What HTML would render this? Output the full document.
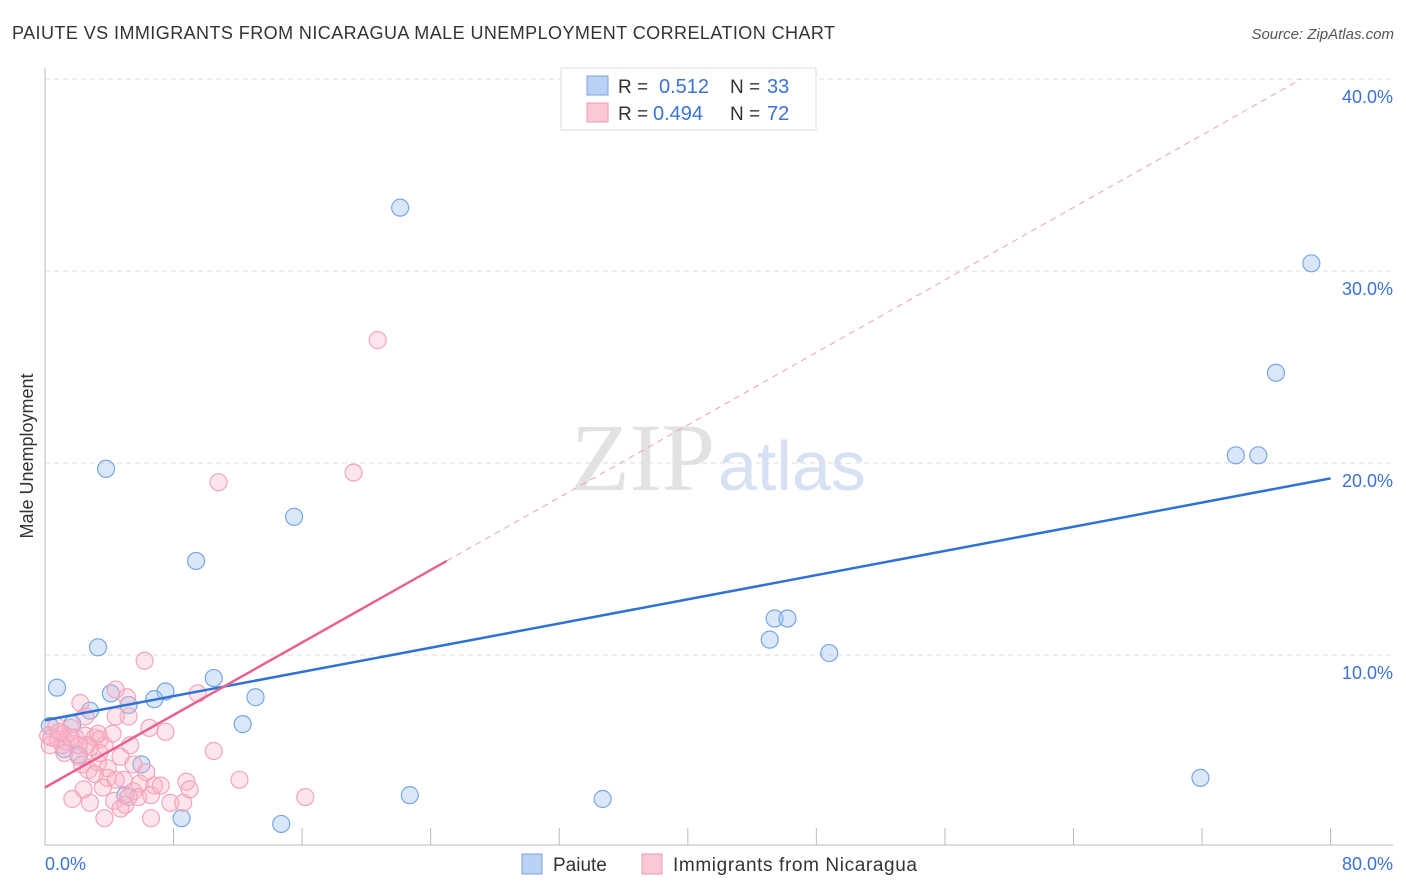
<!DOCTYPE html>
<html><head><meta charset="utf-8"><style>
body{margin:0;background:#fff;font-family:"Liberation Sans",sans-serif;}
svg{display:block}
</style></head><body>
<svg id="c" width="1406" height="892">
<text x="12" y="39" font-size="18" fill="#333" textLength="823">PAIUTE VS IMMIGRANTS FROM NICARAGUA MALE UNEMPLOYMENT CORRELATION CHART</text>
<text x="1394" y="39" font-size="15" fill="#555" font-style="italic" text-anchor="end">Source: ZipAtlas.com</text>
<text x="715" y="490" font-size="96" fill="#e2e2e2" text-anchor="end" font-family="Liberation Serif,serif">ZIP</text>
<text x="718" y="490" font-size="70" fill="#d6e2f3">atlas</text>
<g id="grid"></g>
<g id="marks"></g>
<text x="33" y="456" font-size="18" fill="#333" text-anchor="middle" transform="rotate(-90 33 456)">Male Unemployment</text>
<text x="45" y="870" font-size="18" fill="#3a72d8">0.0%</text>
<text x="1393" y="870" font-size="18" fill="#3a72d8" text-anchor="end">80.0%</text>
<g>
<rect x="561" y="68" width="255" height="62" fill="#fff" stroke="#ddd"/>
<rect x="587" y="76" width="21" height="19" fill="#b9d1f4" stroke="#7aa3e0"/>
<rect x="587" y="103" width="21" height="19" fill="#fbc9d6" stroke="#ee9ab2"/>
<text x="618" y="93" font-size="19" fill="#333">R = </text><text x="659" y="93" font-size="20" fill="#3a72d8">0.512</text>
<text x="730" y="93" font-size="19" fill="#333">N = </text><text x="767" y="93" font-size="20" fill="#3a72d8">33</text>
<text x="618" y="120" font-size="19" fill="#333">R = </text><text x="653" y="120" font-size="20" fill="#3a72d8">0.494</text>
<text x="730" y="120" font-size="19" fill="#333">N = </text><text x="767" y="120" font-size="20" fill="#3a72d8">72</text>
</g>
<g>
<rect x="522" y="854" width="20" height="20" fill="#b9d1f4" stroke="#7aa3e0"/>
<text x="553" y="871" font-size="19" fill="#333">Paiute</text>
<rect x="642" y="854" width="20" height="20" fill="#fbc9d6" stroke="#ee9ab2"/>
<text x="673" y="871" font-size="19" fill="#333" textLength="244">Immigrants from Nicaragua</text>
</g>
</svg>
<script>
const yTicks=[10,20,30,40];
const yTickLabels=["10.0%","20.0%","30.0%","40.0%"];
const xTicks=[0,8,16,24,32,40,48,56,64,72,80];
const paiuteX=[22.1,78.8,76.6,74.1,75.5,3.8,15.5,9.4,3.3,45.4,46.2,45.1,48.8,10.5,0.75,4.1,7.5,6.8,13.1,5.2,2.8,12.3,1.7,0.3,1.2,2.1,6.0,71.9,22.7,34.7,5.0,8.5,14.7];
const paiuteY=[33.3,30.4,24.7,20.4,20.4,19.7,17.2,14.9,10.4,11.9,11.9,10.8,10.1,8.8,8.3,8.0,8.1,7.7,7.8,7.4,7.1,6.4,6.4,6.3,5.1,4.8,4.3,3.6,2.7,2.5,2.7,1.5,1.2];
const nicX=[20.7,19.2,10.8,6.2,9.5,4.4,2.2,5.1,5.2,6.5,7.5,0.7,1.6,1.1,0.2,0.4,0.8,1.3,1.9,2.5,3.1,3.4,3.7,2.8,1.2,2.1,2.3,3.3,3.9,4.7,5.5,2.7,3.1,3.9,4.9,5.9,6.8,5.5,3.6,2.4,1.7,2.8,4.3,5.0,5.8,6.6,7.8,8.6,8.8,9.0,10.5,12.1,16.2,4.7,3.7,6.6,5.2,6.3,4.2,1.1,0.3,1.6,3.3,2.6,7.2,4.4,3.4,2.1,0.9,5.3,2.5,4.4];
const nicY=[26.4,19.5,19.0,9.7,8.0,8.2,7.5,7.8,6.8,6.2,6.0,6.3,6.2,5.9,5.8,5.7,5.6,5.5,5.7,5.8,5.7,5.6,5.3,5.2,4.9,4.7,4.3,4.4,4.1,4.7,4.3,4.0,3.8,3.6,3.5,3.3,3.2,2.9,3.1,3.0,2.5,2.3,2.4,2.2,2.6,2.7,2.3,2.3,3.4,3.0,5.0,3.5,2.6,2.0,1.5,1.5,2.6,3.9,5.9,5.3,5.3,5.7,5.9,5.3,3.2,3.5,4.9,5.3,6.0,5.3,6.8,6.8];
const paiuteLine=[6.6,19.2];
const nicLine=[3.1,0.472];
const sx=v=>45+v*16.07, sy=v=>847-v*19.2;
const NS="http://www.w3.org/2000/svg";
function mk(t,a,p){const e=document.createElementNS(NS,t);for(const k in a)e.setAttribute(k,a[k]);p.appendChild(e);return e;}
const g=document.getElementById('grid'), m=document.getElementById('marks');
yTicks.forEach((t,i)=>{
 const l=mk('line',{x1:45,x2:1393,y1:sy(t),y2:sy(t),stroke:'#ddd','stroke-dasharray':'5,4'},g);
 
 
 const tx=mk('text',{x:1393,y:sy(t)+24,'font-size':18,fill:'#3a72d8','text-anchor':'end'},g);
 tx.textContent=yTickLabels[i];
 
 
});
const ax=mk('line',{x1:45,x2:45,y1:68,y2:845,stroke:'#bbb'},g);


const bx=mk('line',{x1:45,x2:1393,y1:845,y2:845,stroke:'#bbb'},g);


xTicks.forEach(t=>{
 const l=mk('line',{x1:sx(t),x2:sx(t),y1:828,y2:845,stroke:'#bbb'},g);
 
 
});
paiuteX.forEach((x,i)=>{
 const c=mk('circle',{cx:sx(x),cy:sy(paiuteY[i]),r:8.5,fill:'rgba(160,195,240,0.4)',stroke:'#79a6e2','stroke-width':1.2},m);
 
 
});
nicX.forEach((x,i)=>{
 const c=mk('circle',{cx:sx(x),cy:sy(nicY[i]),r:8.5,fill:'rgba(248,180,200,0.35)',stroke:'#f2a4bb','stroke-width':1.2},m);
 
 
});
const bl=mk('line',{x1:sx(0),y1:sy(paiuteLine[0]),x2:sx(80),y2:sy(paiuteLine[1]),stroke:'#2f72d6','stroke-width':2.5},m);


const pl=mk('line',{x1:sx(0),y1:sy(nicLine[0]),x2:sx(25),y2:sy(nicLine[0]+25*nicLine[1]),stroke:'#e8628e','stroke-width':2.5},m);


const xe=(40-nicLine[0])/nicLine[1];
const pd=mk('line',{x1:sx(25),y1:sy(nicLine[0]+25*nicLine[1]),x2:sx(xe),y2:sy(40),stroke:'#eaa0b8','stroke-width':1,'stroke-dasharray':'6,5'},m);


</script>
</body></html>
